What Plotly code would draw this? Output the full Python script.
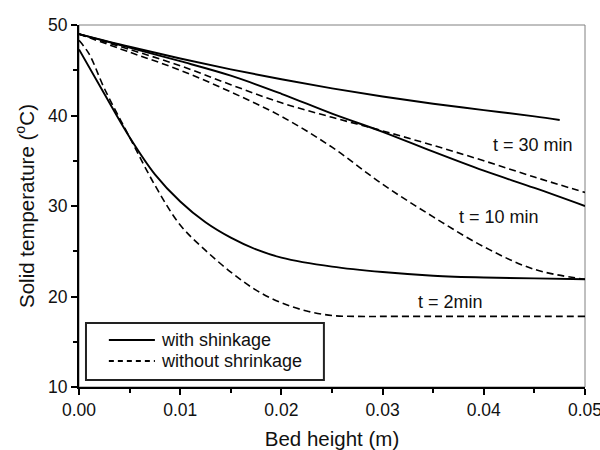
import plotly.graph_objects as go

# Bed height (m)
x_30s = [0, 0.005, 0.01, 0.015, 0.02, 0.025, 0.03, 0.035, 0.04, 0.045, 0.0475]
T_30s = [49.0, 47.6, 46.3, 45.1, 44.0, 43.0, 42.1, 41.3, 40.6, 39.9, 39.5]

x_10s = [0, 0.005, 0.01, 0.015, 0.02, 0.025, 0.03, 0.035, 0.04, 0.045, 0.05]
T_10s = [49.0, 47.5, 46.0, 44.4, 42.4, 40.2, 38.2, 36.0, 33.9, 32.0, 30.0]

x_2s = [0, 0.0025, 0.005, 0.0075, 0.01, 0.0125, 0.015, 0.0175, 0.02, 0.025, 0.03, 0.035, 0.04, 0.045, 0.05]
T_2s = [47.3, 42.4, 37.6, 33.5, 30.5, 28.2, 26.5, 25.2, 24.3, 23.3, 22.7, 22.3, 22.1, 22.0, 21.9]

x_30d = [0, 0.005, 0.01, 0.015, 0.02, 0.025, 0.03, 0.035, 0.04, 0.045, 0.05]
T_30d = [49.0, 47.3, 45.5, 43.4, 41.4, 39.8, 38.3, 36.7, 35.0, 33.2, 31.5]

x_10d = [0, 0.005, 0.01, 0.015, 0.02, 0.025, 0.03, 0.035, 0.04, 0.045, 0.05]
T_10d = [49.0, 47.0, 45.0, 42.6, 39.9, 36.5, 32.4, 28.8, 25.5, 23.0, 21.9]

x_2d = [0, 0.001, 0.0025, 0.005, 0.0075, 0.01, 0.0125, 0.015, 0.0175, 0.02, 0.0225, 0.025, 0.0275, 0.03, 0.035, 0.04, 0.045, 0.05]
T_2d = [48.3, 46.8, 43.0, 37.6, 32.3, 27.9, 25.1, 22.7, 20.7, 19.3, 18.4, 17.9, 17.8, 17.8, 17.8, 17.8, 17.8, 17.8]

x_ticks = [0.0, 0.01, 0.02, 0.03, 0.04, 0.05]
x_ticktext = ["0.00", "0.01", "0.02", "0.03", "0.04", "0.05"]
y_ticks = [10, 20, 30, 40, 50]

legend_names = ["with shinkage", "without shrinkage"]
labels = ["t = 30 min", "t = 10 min", "t = 2min"]
label_x = [0.0449, 0.0415, 0.0367]
label_y = [36.7, 28.8, 19.4]

FONT = "Liberation Sans, Arial, sans-serif"
INK = "#111"

fig = go.Figure()
solid = dict(color="black", width=1.9, shape="spline")
dashed = dict(color="black", width=1.6, dash="7px,4px", shape="spline")

fig.add_trace(go.Scatter(x=x_30s, y=T_30s, mode="lines", line=solid, showlegend=False))
fig.add_trace(go.Scatter(x=x_10s, y=T_10s, mode="lines", line=solid, showlegend=False))
fig.add_trace(go.Scatter(x=x_2s, y=T_2s, mode="lines", line=solid, showlegend=False))
fig.add_trace(go.Scatter(x=x_30d, y=T_30d, mode="lines", line=dashed, showlegend=False))
fig.add_trace(go.Scatter(x=x_10d, y=T_10d, mode="lines", line=dashed, showlegend=False))
fig.add_trace(go.Scatter(x=x_2d, y=T_2d, mode="lines", line=dashed, showlegend=False))

for t, lx, ly in zip(labels, label_x, label_y):
    fig.add_annotation(x=lx, y=ly, text=t, showarrow=False,
                       font=dict(family=FONT, size=18, color=INK))

# thin grey frame (top/right)
fig.add_shape(type="rect", xref="paper", yref="paper", x0=0, y0=0, x1=1, y1=1,
              line=dict(color="#808080", width=1), layer="below")

# legend box (drawn)
fig.add_shape(type="rect", xref="paper", yref="paper", x0=0.0138, x1=0.484, y0=0.0193, y1=0.177,
              line=dict(color="#222", width=2), fillcolor="white", layer="below")
leg_y = [0.130, 0.072]
leg_dash = ["solid", "5px,4px"]
for name, ly, dsh in zip(legend_names, leg_y, leg_dash):
    fig.add_shape(type="line", xref="paper", yref="paper", x0=0.059, x1=0.150, y0=ly, y1=ly,
                  line=dict(color="black", width=1.9, dash=dsh))
    fig.add_annotation(xref="paper", yref="paper", x=0.158, y=ly, text=name, showarrow=False,
                       xanchor="left", yanchor="middle",
                       font=dict(family=FONT, size=18, color=INK))

axis_common = dict(showgrid=False, zeroline=False, showline=True, linecolor="black", linewidth=2,
                   ticks="outside", ticklen=6, tickwidth=1.5, tickcolor="black", automargin=False,
                   ticklabeloverflow="allow",
                   tickfont=dict(family=FONT, size=17.5, color=INK))

fig.update_xaxes(range=[0, 0.05], tickvals=x_ticks, ticktext=x_ticktext,
                 minor=dict(dtick=0.005, tick0=0, ticks="outside", ticklen=4, tickwidth=1.5, tickcolor="black"),
                 title=dict(text="Bed height (m)", font=dict(family=FONT, size=20.5, color=INK), standoff=14),
                 **axis_common)
fig.update_yaxes(range=[10, 50], tickvals=y_ticks,
                 minor=dict(dtick=5, tick0=10, ticks="outside", ticklen=4, tickwidth=1.5, tickcolor="black"),
                 title=dict(text="Solid temperature (<sup>o</sup>C)", font=dict(family=FONT, size=20.5, color=INK), standoff=8),
                 **axis_common)

fig.update_layout(
    width=600, height=450,
    margin=dict(l=79, r=15, t=25, b=63),
    paper_bgcolor="white", plot_bgcolor="white",
    font=dict(family=FONT, color=INK),
    showlegend=False,
)

fig.write_html("out.html")
